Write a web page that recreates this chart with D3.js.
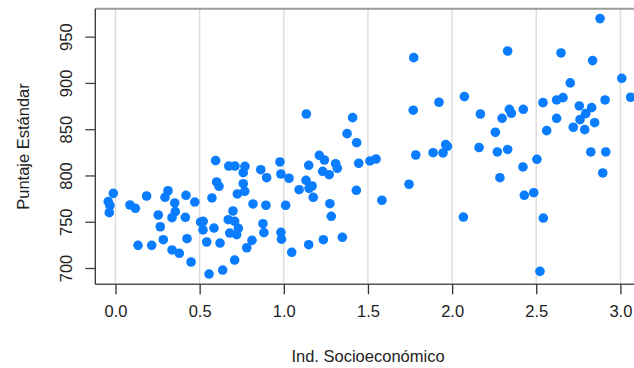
<!DOCTYPE html>
<html>
<head>
<meta charset="utf-8">
<script src="https://cdn.jsdelivr.net/npm/d3@7"></script>
<style>
  html, body { margin: 0; padding: 0; background: #fff; }
  svg { display: block; }
  text { font-family: "Liberation Sans", Arial, sans-serif; fill: #222; }
</style>
</head>
<body>
<svg id="chart" width="634" height="368"></svg>
<script>
// ---- data ----
const indSocio = [
  -0.013,-0.043,-0.033,-0.037,0.086,0.118,0.185,0.312,0.294,0.352,0.355,0.336,0.254,0.266,0.284,0.134,0.215,0.336,0.379,0.419,
  0.471,0.415,0.425,0.449,0.595,0.601,0.615,0.573,0.506,0.521,0.520,0.585,0.542,0.621,0.556,0.637,0.673,0.710,0.769,0.759,
  0.759,0.768,0.724,0.698,0.670,0.708,0.730,0.679,0.720,0.811,0.780,0.708,0.863,0.898,0.817,0.894,0.876,0.882,0.977,0.983,
  0.983,0.986,
  1.433,1.962,1.972,1.784,1.887,1.946,1.031,1.148,1.211,1.241,1.308,1.318,1.231,1.270,1.132,1.168,1.150,1.091,1.175,1.445,
  1.512,1.548,1.431,1.274,1.282,1.011,1.047,1.148,1.235,1.348,1.583,1.744,2.067,
  1.134,1.409,1.376,1.772,1.769,1.922,2.073,
  2.330,2.168,2.297,2.340,2.352,2.423,2.257,2.160,2.269,2.330,2.647,2.879,2.835,2.702,3.008,2.540,2.621,2.659,2.909,3.061,
  2.756,2.829,2.794,2.760,2.621,2.720,2.788,2.847,2.562,2.824,2.913,2.504,2.421,2.284,2.485,2.429,2.542,2.522,2.895
];
const puntaje = [
  780.7,771.7,767.3,759.8,768.1,764.5,777.8,783.5,776.4,770.3,760.9,754.4,757.3,744.6,730.6,724.5,724.5,719.5,715.9,778.6,
  771.3,754.8,731.7,706.5,816.0,793.0,788.3,775.7,749.7,750.5,741.1,743.2,728.1,727.0,693.5,697.8,810.2,810.2,809.9,803.0,
  791.1,782.9,780.0,761.6,752.2,750.5,742.9,737.8,736.0,729.9,721.9,708.6,806.2,797.6,769.2,767.8,747.9,738.2,814.6,801.6,
  738.6,731.1,
  835.4,833.3,831.5,822.1,824.6,824.3,797.0,811.0,821.8,816.7,812.7,807.8,804.5,800.8,794.8,788.6,786.1,784.6,776.4,813.2,
  815.7,817.8,784.0,769.5,755.9,767.8,717.0,725.2,730.6,733.2,773.2,790.5,755.1,
  866.4,862.5,845.2,927.3,870.5,879.1,885.2,
  934.5,866.4,861.8,871.5,867.2,871.5,846.7,830.2,825.4,828.1,932.4,969.5,924.1,900.0,905.0,878.7,881.6,884.1,881.6,884.5,
  875.1,873.3,866.8,860.3,861.8,852.1,849.5,857.0,848.4,825.4,825.4,817.5,809.2,797.6,781.4,778.6,754.0,696.4,802.7
];
const xTicks = [0.0, 0.5, 1.0, 1.5, 2.0, 2.5, 3.0];
const yTicks = [700, 750, 800, 850, 900, 950];
const xLabel = "Ind. Socioeconómico";
const yLabel = "Puntaje Estándar";

// ---- layout ----
const svg = d3.select("#chart");
const mLeft = 95.3, mRight = 660.8, mTop = 8.7, mBottom = 284.3;
const x = d3.scaleLinear().domain([-0.12, 3.24]).range([mLeft, mRight]);
const y = d3.scaleLinear().domain([682.4, 980.2]).range([mBottom, mTop]);
const fs = 16.5;
const ff = "Liberation Sans, Arial, sans-serif";

// gridlines
svg.append("g").selectAll("line").data(xTicks).join("line")
  .attr("x1", d => x(d)).attr("x2", d => x(d))
  .attr("y1", mTop).attr("y2", mBottom)
  .attr("stroke", "#dcdcdc").attr("stroke-width", 1.4);

// top border
svg.append("line").attr("x1", mLeft).attr("x2", 634).attr("y1", mTop).attr("y2", mTop)
  .attr("stroke", "#9a9a9a").attr("stroke-width", 2);

// points
svg.append("g").selectAll("circle").data(indSocio.map((v, i) => [v, puntaje[i]])).join("circle")
  .attr("cx", d => x(d[0])).attr("cy", d => y(d[1]))
  .attr("r", 4.8).attr("fill", "#0a7dff");

// x axis
const xAxis = d3.axisBottom(x).tickValues(xTicks).tickFormat(d3.format(".1f")).tickSize(10).tickPadding(11);
const gx = svg.append("g").attr("transform", `translate(0,${mBottom})`).call(xAxis);
gx.select(".domain").attr("stroke", "#555").attr("stroke-width", 1.6).attr("d", `M${mLeft},0H634`);
gx.selectAll(".tick line").attr("stroke", "#333").attr("stroke-width", 1.3);
gx.selectAll(".tick text").attr("font-size", fs).attr("font-family", ff).attr("fill", "#222");

// y axis
const yAxis = d3.axisLeft(y).tickValues(yTicks).tickSize(10).tickPadding(10);
const gy = svg.append("g").attr("transform", `translate(${mLeft},0)`).call(yAxis);
gy.select(".domain").attr("stroke", "#333").attr("stroke-width", 1.3).attr("d", `M0,${mTop}V${mBottom}`);
gy.selectAll(".tick line").attr("stroke", "#444").attr("stroke-width", 1.3);
gy.selectAll(".tick text")
  .attr("font-size", fs).attr("font-family", ff).attr("fill", "#222")
  .attr("text-anchor", "middle").attr("dy", null)
  .attr("x", 0).attr("y", 0)
  .attr("transform", "translate(-23.5,0) rotate(-90)");

// axis titles
svg.append("text").attr("x", 368).attr("y", 362)
  .attr("text-anchor", "middle").attr("font-size", fs).attr("font-family", ff).text(xLabel);
svg.append("text").attr("transform", `translate(28.5,${(mTop + mBottom) / 2}) rotate(-90)`)
  .attr("text-anchor", "middle").attr("font-size", fs).attr("font-family", ff).text(yLabel);
</script>
</body>
</html>
